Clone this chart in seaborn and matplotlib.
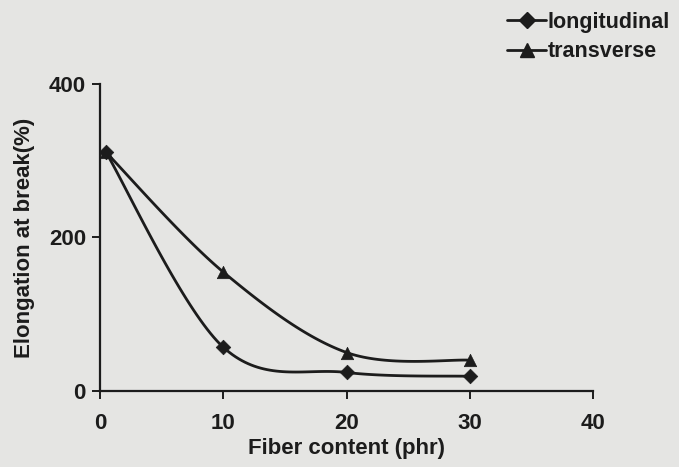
import numpy as np
import pandas as pd
import matplotlib
matplotlib.use("Agg")
import matplotlib.pyplot as plt
import seaborn as sns
from matplotlib.lines import Line2D

# ---- data ----
fiber = [0.5, 10, 20, 30]
longitudinal = [311, 57, 24, 19]
transverse = [311, 155, 50, 40]
series_names = ["longitudinal", "transverse"]
x_ticks = [0, 10, 20, 30, 40]
y_ticks = [0, 200, 400]

sns.set_theme(style="ticks")
plt.rcParams["font.family"] = ["Liberation Sans", "DejaVu Sans"]
plt.rcParams["font.weight"] = "bold"

BG = "#e5e5e3"
INK = "#1c1c1c"


def smooth(x, y, n=40):
    """Excel-style smoothed line (Catmull-Rom / Bezier) through the points."""
    x = np.asarray(x, float)
    y = np.asarray(y, float)
    P = np.column_stack([x, y])
    Pe = np.vstack([P[0], P, P[-1]])
    out = []
    t = np.linspace(0, 1, n)[:, None]
    for i in range(len(P) - 1):
        p0, p1, p2, p3 = Pe[i], Pe[i + 1], Pe[i + 2], Pe[i + 3]
        c1 = p1 + (p2 - p0) / 6
        c2 = p2 - (p3 - p1) / 6
        seg = ((1 - t) ** 3) * p1 + 3 * ((1 - t) ** 2) * t * c1 + 3 * (1 - t) * t ** 2 * c2 + t ** 3 * p2
        out.append(seg if i == 0 else seg[1:])
    out = np.vstack(out)
    return out[:, 0], out[:, 1]


fig = plt.figure(figsize=(6.79, 4.67), dpi=100, facecolor=BG)
ax = fig.add_axes([0.147, 0.163, 0.727, 0.657])
ax.set_facecolor(BG)

markers = {"longitudinal": "D", "transverse": "^"}
sizes = {"longitudinal": 55, "transverse": 80}
for name, vals in zip(series_names, [longitudinal, transverse]):
    sx, sy = smooth(fiber, vals)
    sm = pd.DataFrame({"x": sx, "y": sy})
    sns.lineplot(data=sm, x="x", y="y", sort=False, estimator=None, ax=ax,
                 color=INK, linewidth=2.0)
    pts = pd.DataFrame({"x": fiber, "y": vals})
    sns.scatterplot(data=pts, x="x", y="y", ax=ax, marker=markers[name],
                    s=sizes[name], color=INK, edgecolor=INK, linewidth=0.5,
                    zorder=5)

ax.set_xlim(0, 40)
ax.set_ylim(0, 400)
ax.set_xticks(x_ticks)
ax.set_yticks(y_ticks)
ax.tick_params(axis="both", labelsize=16, length=6, width=1.4, color=INK,
               labelcolor=INK, direction="out")
ax.tick_params(axis="y", pad=4)
ax.tick_params(axis="x", pad=10)
for lab in ax.get_xticklabels() + ax.get_yticklabels():
    lab.set_fontweight("bold")
sns.despine(ax=ax)
for s in ["left", "bottom"]:
    ax.spines[s].set_linewidth(1.6)
    ax.spines[s].set_color(INK)

ax.set_xlabel("Fiber content (phr)", fontsize=16, fontweight="bold",
              color=INK, labelpad=3)
ax.set_ylabel("Elongation at break(%)", fontsize=16, fontweight="bold",
              color=INK, labelpad=10)

handles = [Line2D([], [], color=INK, lw=2, marker=markers[n],
                  markersize=8 if n == "longitudinal" else 10, markeredgecolor=INK)
           for n in series_names]
leg = fig.legend(handles, series_names, loc="upper left",
                 bbox_to_anchor=(0.722, 1.012), frameon=False, fontsize=15.5,
                 handlelength=1.8, handletextpad=0.08, labelspacing=0.4,
                 borderpad=0.3)
for t in leg.get_texts():
    t.set_fontweight("bold")
    t.set_color(INK)

fig.savefig("out.png", dpi=100, facecolor=BG)
